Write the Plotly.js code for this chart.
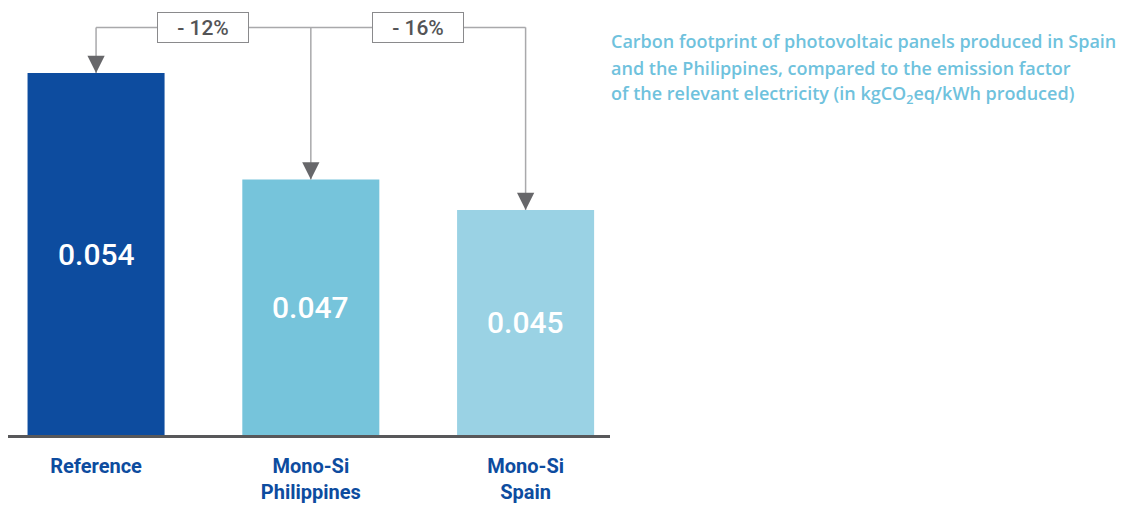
<!DOCTYPE html>
<html>
<head>
<meta charset="utf-8">
<script src="https://cdn.plot.ly/plotly-3.0.1.min.js"></script>
<style>
  html, body { margin: 0; padding: 0; background: #ffffff; }
  #chart { width: 1130px; height: 507px; }
</style>
</head>
<body>
<div id="chart"></div>
<script>
// Carbon footprint per kWh, reference vs mono-Si panels
const categories = ['Reference', 'Mono-Si<br>Philippines', 'Mono-Si<br>Spain'];
const footprint = [0.054, 0.047, 0.045];
const valueLabels = ['0.054', '0.047', '0.045'];
const changeLabels = ['- 12%', '- 16%'];
const titleLines = [
  'Carbon footprint of photovoltaic panels produced in Spain',
  'and the Philippines, compared to the emission factor',
  'of the relevant electricity (in kgCO<sub>2</sub>eq/kWh produced)'
];

const barColors = ['#0D4C9F', '#76C4DB', '#9AD2E4'];
const yLow = 0.0302, yHigh = 0.0588;   // visible window of the value axis
const bracketY = 0.0570;               // height of the connector line
const stemColor = '#a9a9ab';
const headColor = '#67676a';
const fontFam = 'Roboto, "Noto Sans", sans-serif';
const titleFam = '"Open Sans", Roboto, sans-serif';

const idx = categories.map((c, i) => i);

const bars = {
  type: 'bar',
  x: idx,
  y: footprint,
  marker: { color: barColors, line: { width: 0 } },
  hoverinfo: 'skip',
  cliponaxis: true
};

// connector lines: vertical stems down to each bar and the horizontal link
const shapes = [];
idx.forEach((i) => {
  shapes.push({
    type: 'line', xref: 'x', yref: 'y',
    x0: i, x1: i, y0: bracketY, y1: footprint[i],
    line: { color: stemColor, width: 1.5 }, layer: 'above'
  });
});
shapes.push({
  type: 'line', xref: 'x', yref: 'y',
  x0: 0, x1: idx[idx.length - 1], y0: bracketY, y1: bracketY,
  line: { color: stemColor, width: 1.5 }, layer: 'above'
});

const annotations = [];
// value labels centred in the visible part of each bar
idx.forEach((i) => {
  annotations.push({
    xref: 'x', yref: 'y', x: i, y: (yLow + footprint[i]) / 2,
    text: valueLabels[i], showarrow: false,
    font: { family: fontFam, size: 30, color: '#ffffff', weight: 500 }
  });
});
// arrowheads at the top of each bar
idx.forEach((i) => {
  annotations.push({
    xref: 'x', yref: 'y', x: i, y: footprint[i],
    ax: 0, ay: -16, text: '', showarrow: true,
    arrowhead: 2, arrowsize: 2.3, arrowwidth: 1.5, arrowcolor: headColor, standoff: 0
  });
});
// percentage boxes between the bars
changeLabels.forEach((t, j) => {
  annotations.push({
    xref: 'x', yref: 'y', x: j + 0.5, y: bracketY,
    text: t, showarrow: false,
    font: { family: fontFam, size: 21, color: '#545456', weight: 500 },
    bgcolor: '#ffffff', bordercolor: '#8a8a8c', borderwidth: 1,
    width: 88, height: 27, align: 'center', valign: 'middle'
  });
});
// heading text on the right
const titleTops = [0.906, 0.844, 0.782];
titleLines.forEach((t, j) => {
  annotations.push({
    xref: 'paper', yref: 'paper', x: 0.9985, y: titleTops[j],
    xanchor: 'left', yanchor: 'middle',
    text: t, showarrow: false, align: 'left',
    font: { family: titleFam, size: 18, color: '#6FC2DD', weight: 600 }
  });
});

const layout = {
  width: 1130, height: 507,
  margin: { l: 8, r: 520, t: 0, b: 72 },
  paper_bgcolor: '#ffffff', plot_bgcolor: '#ffffff',
  showlegend: false,
  bargap: 0.362,
  xaxis: {
    type: 'linear',
    range: [-0.41, 2.393],
    tickvals: idx, ticktext: categories,
    ticks: '', showgrid: false, zeroline: false,
    showline: true, linecolor: '#58585a', linewidth: 2.5,
    ticklabelstandoff: 11,
    tickfont: { family: fontFam, size: 20, color: '#0D4C9F', weight: 'bold' }
  },
  yaxis: {
    range: [yLow, yHigh],
    visible: false, showgrid: false, zeroline: false, fixedrange: true
  },
  shapes: shapes,
  annotations: annotations
};

Plotly.newPlot('chart', [bars], layout, { displayModeBar: false, staticPlot: true });
</script>
</body>
</html>
